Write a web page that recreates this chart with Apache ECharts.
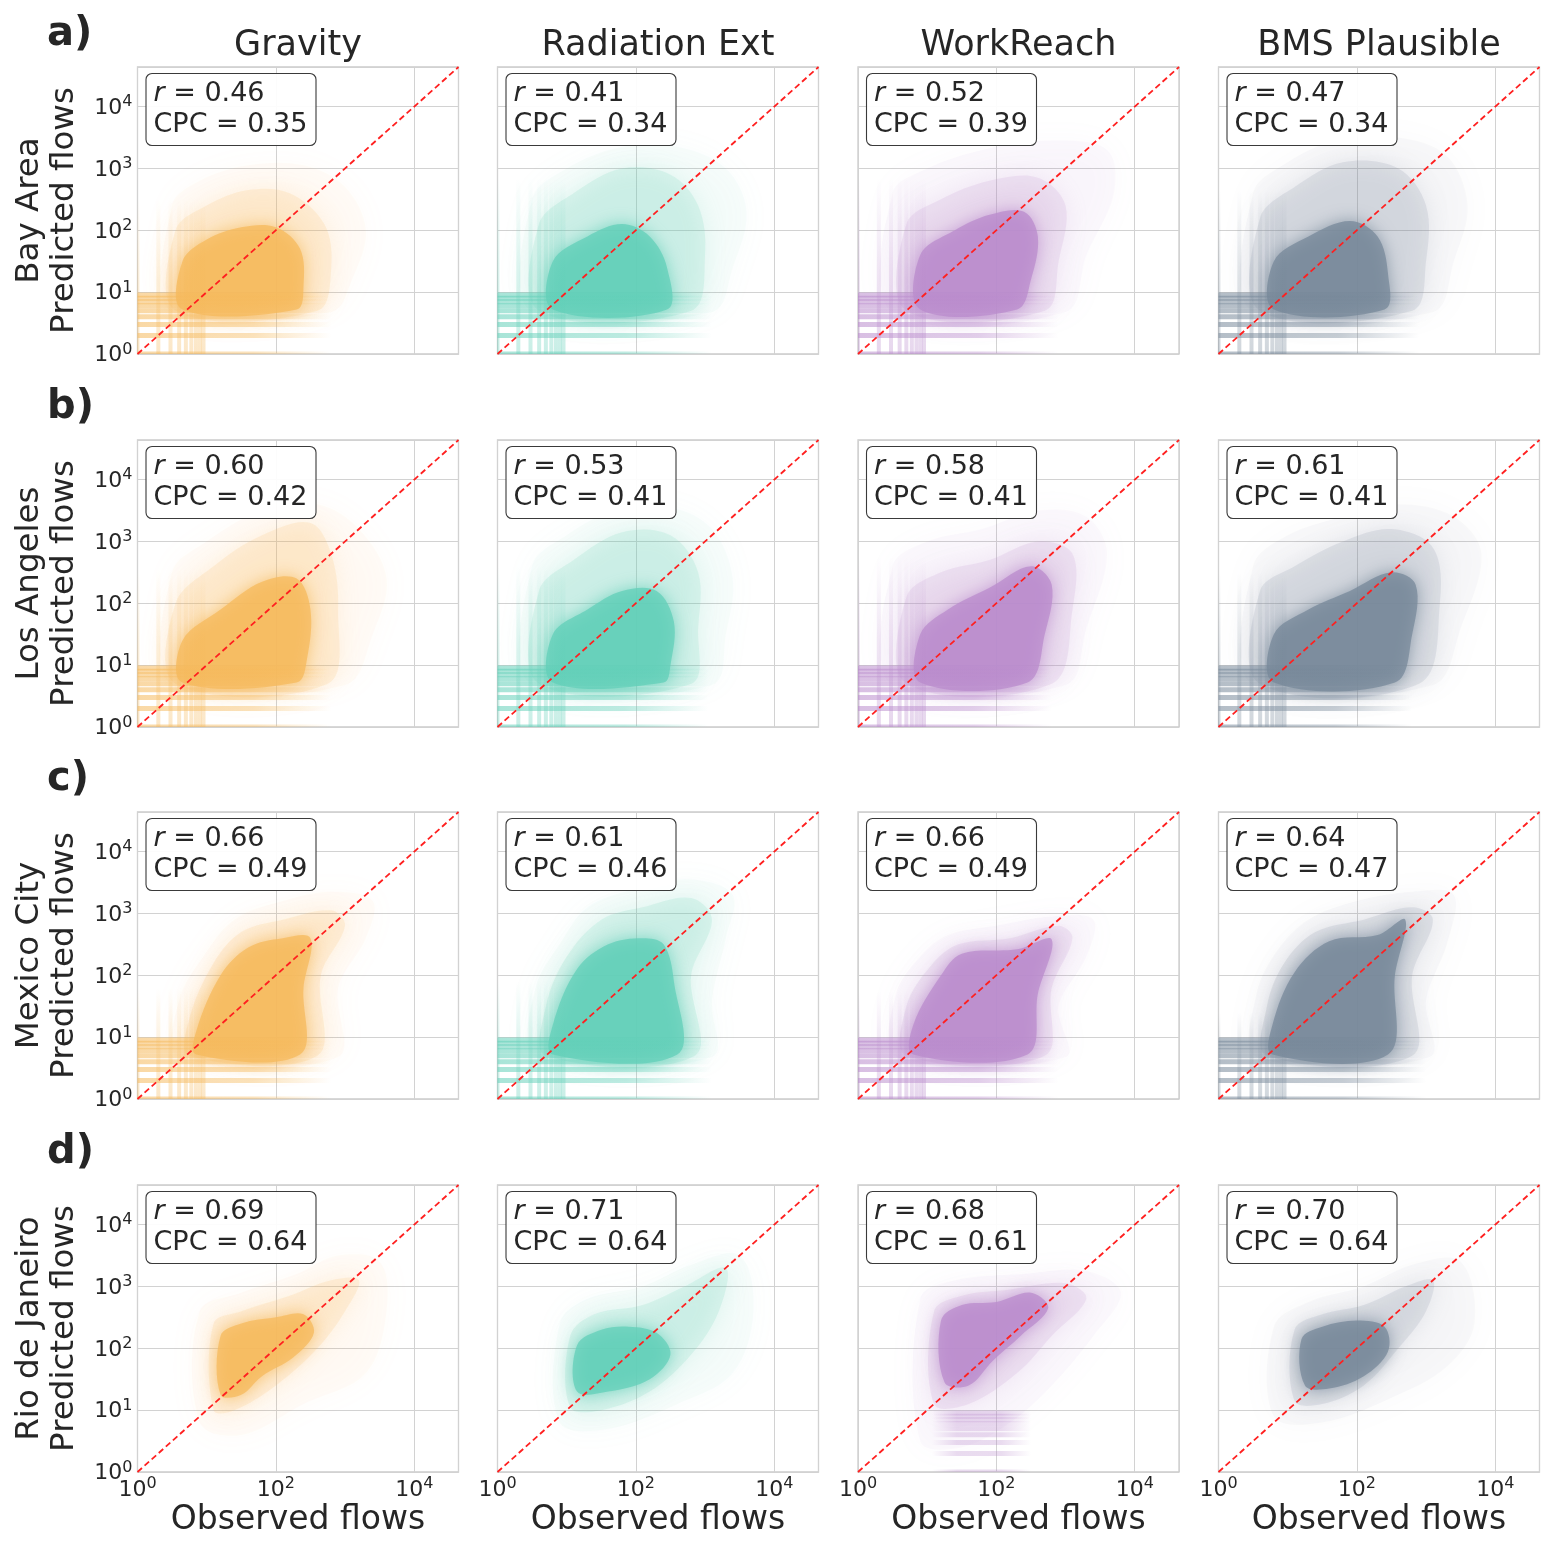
<!DOCTYPE html>
<html>
<head>
<meta charset="utf-8">
<title>Observed vs predicted flows</title>
<script src="https://cdn.jsdelivr.net/npm/echarts@6.0.0/dist/echarts.min.js"></script>
<style>
  html, body { margin: 0; padding: 0; background: #fff; }
  #chart { width: 1556px; height: 1547px; }
</style>
</head>
<body>
<div id="chart"></div>
<script>
// columns = models, rows = cities
const models = ['Gravity', 'Radiation Ext', 'WorkReach', 'BMS Plausible']
const cities = ['Bay Area', 'Los Angeles', 'Mexico City', 'Rio de Janeiro']
const panelTags = ['a)', 'b)', 'c)', 'd)']
const modelColors = ['#f5b95c', '#62cfb8', '#b98bcc', '#778899']

// scores per city (row) and model (column)
const rValues = [
  [0.46, 0.41, 0.52, 0.47],
  [0.60, 0.53, 0.58, 0.61],
  [0.66, 0.61, 0.66, 0.64],
  [0.69, 0.71, 0.68, 0.70]
]
const cpcValues = [
  [0.35, 0.34, 0.39, 0.34],
  [0.42, 0.41, 0.41, 0.41],
  [0.49, 0.46, 0.49, 0.47],
  [0.64, 0.64, 0.61, 0.64]
]

// axes: log10 exponents
const xTickExp = [0, 2, 4]
const yTickExp = [0, 1, 2, 3, 4]
const axisMaxExp = 4.64

// the point clouds, read off the picture as outlines
// each vertex is [log10(observed), log10(predicted)]
const cloudHalo = [
  [
    [[0.5,0.68],[0.5,2.4],[0.9,2.8],[1.6,3.05],[2.4,3.05],[3.0,2.7],[3.3,2.0],[3.1,1.2],[2.8,0.68]],
    [[0.5,0.68],[0.5,2.5],[1.0,3.0],[1.8,3.35],[2.6,3.35],[3.3,3.0],[3.6,2.3],[3.4,1.4],[3.1,0.68]],
    [[0.5,0.68],[0.5,2.6],[1.0,3.0],[1.8,3.3],[2.8,3.45],[3.6,3.3],[3.7,2.6],[3.3,1.6],[3.0,0.68]],
    [[0.5,0.68],[0.5,2.6],[1.0,3.1],[1.7,3.45],[2.6,3.5],[3.3,3.2],[3.6,2.4],[3.4,1.5],[3.1,0.68]]
  ],
  [
    [[0.5,0.68],[0.5,2.5],[1.0,3.0],[1.8,3.5],[2.6,3.6],[3.2,3.2],[3.6,2.4],[3.4,1.5],[3.0,0.68]],
    [[0.5,0.68],[0.5,2.6],[1.0,3.1],[1.7,3.5],[2.5,3.55],[3.1,3.2],[3.4,2.4],[3.3,1.5],[3.1,0.68]],
    [[0.5,0.68],[0.5,2.6],[1.0,3.0],[1.8,3.2],[2.6,3.5],[3.3,3.4],[3.6,2.8],[3.3,1.6],[3.0,0.68]],
    [[0.5,0.68],[0.5,2.6],[1.0,3.1],[1.8,3.4],[2.6,3.6],[3.4,3.4],[3.8,2.8],[3.5,1.6],[3.1,0.68]]
  ],
  [
    [[0.6,0.68],[0.6,1.6],[0.95,2.3],[1.4,2.9],[2.1,3.2],[2.8,3.35],[3.4,3.2],[3.3,2.6],[2.9,1.8],[2.9,0.68]],
    [[0.55,0.68],[0.55,1.8],[0.9,2.5],[1.3,3.1],[2.0,3.4],[2.8,3.55],[3.4,3.3],[3.3,2.6],[3.1,1.6],[3.1,0.68]],
    [[0.55,0.68],[0.55,1.7],[0.9,2.3],[1.3,2.65],[2.0,2.8],[2.8,2.95],[3.4,2.9],[3.3,2.3],[2.9,1.5],[3.0,0.68]],
    [[0.55,0.68],[0.55,1.7],[0.85,2.4],[1.3,2.9],[2.0,3.2],[2.8,3.35],[3.4,3.3],[3.3,2.5],[3.0,1.6],[3.05,0.68]]
  ],
  [
    [[0.9,0.8],[0.9,2.6],[1.5,2.9],[2.3,3.2],[2.9,3.5],[3.5,3.4],[3.6,2.6],[3.3,1.6],[2.4,1.1],[1.5,0.6]],
    [[0.9,0.8],[0.9,2.4],[1.3,2.8],[2.1,3.0],[2.8,3.35],[3.5,3.5],[3.7,2.6],[3.4,1.6],[2.6,1.1],[1.6,0.7]],
    [[0.9,0.5],[0.9,2.8],[1.4,3.1],[2.4,3.2],[3.3,3.25],[3.8,2.9],[3.4,2.2],[2.8,1.4],[2.2,0.8],[1.5,0.4]],
    [[0.8,0.9],[0.8,2.35],[1.3,2.75],[2.1,3.0],[2.8,3.35],[3.5,3.4],[3.7,2.4],[3.3,1.7],[2.5,1.2],[1.5,0.8]]
  ]
]
const cloudMid = [
  [
    [[0.55,0.7],[0.55,2.0],[1.0,2.4],[1.6,2.65],[2.2,2.6],[2.7,2.1],[2.8,1.4],[2.6,0.7]],
    [[0.6,0.7],[0.6,2.1],[1.1,2.6],[1.8,3.0],[2.5,2.9],[2.9,2.4],[3.0,1.6],[2.8,0.7]],
    [[0.7,0.7],[0.7,2.1],[1.2,2.5],[1.9,2.8],[2.6,2.85],[3.0,2.4],[2.9,1.5],[2.7,0.7]],
    [[0.6,0.7],[0.6,2.2],[1.1,2.7],[1.8,3.1],[2.6,3.0],[3.0,2.4],[3.0,1.5],[2.8,0.7]]
  ],
  [
    [[0.55,0.7],[0.55,2.0],[1.1,2.6],[1.8,3.1],[2.5,3.3],[2.8,2.8],[2.9,1.9],[2.75,0.7]],
    [[0.6,0.7],[0.6,2.2],[1.1,2.7],[1.8,3.15],[2.5,3.1],[2.9,2.5],[2.9,1.6],[2.8,0.7]],
    [[0.7,0.7],[0.7,2.1],[1.2,2.5],[1.9,2.7],[2.6,3.0],[3.1,2.8],[3.1,1.9],[2.8,0.7]],
    [[0.6,0.7],[0.6,2.2],[1.1,2.6],[1.8,3.0],[2.5,3.2],[3.1,2.9],[3.2,2.0],[2.9,0.7]]
  ],
  [
    [[0.75,0.7],[0.75,1.3],[1.1,2.2],[1.5,2.7],[2.1,2.9],[2.8,3.05],[3.0,2.8],[2.65,2.0],[2.6,0.7]],
    [[0.7,0.7],[0.7,1.5],[1.0,2.3],[1.5,2.9],[2.1,3.1],[2.8,3.25],[3.1,2.9],[2.8,2.0],[2.85,0.7]],
    [[0.7,0.7],[0.7,1.5],[1.05,2.15],[1.45,2.5],[2.2,2.6],[2.9,2.8],[3.1,2.6],[2.8,1.8],[2.7,0.7]],
    [[0.7,0.7],[0.7,1.5],[0.95,2.2],[1.4,2.7],[2.1,2.9],[2.8,3.1],[3.1,2.9],[2.8,2.0],[2.8,0.7]]
  ],
  [
    [[1.1,1.0],[1.1,2.4],[1.5,2.6],[2.2,2.85],[2.8,3.1],[3.2,3.1],[3.0,2.6],[2.6,2.0],[2.0,1.4],[1.4,1.0]],
    [[1.05,1.05],[1.05,2.2],[1.4,2.55],[2.1,2.7],[2.7,3.0],[3.3,3.3],[3.2,2.6],[2.8,1.9],[2.2,1.3],[1.5,1.0]],
    [[1.1,1.1],[1.1,2.6],[1.5,2.85],[2.2,2.95],[3.0,3.05],[3.3,2.8],[2.8,2.2],[2.3,1.6],[1.6,1.1]],
    [[1.1,1.15],[1.1,2.3],[1.5,2.55],[2.1,2.7],[2.7,3.0],[3.1,3.1],[3.0,2.6],[2.6,2.0],[2.1,1.4],[1.5,1.1]]
  ]
]
const cloudCore = [
  [
    [[0.65,0.72],[0.65,1.5],[1.0,1.85],[1.5,2.05],[2.0,2.05],[2.35,1.7],[2.4,1.1],[2.3,0.72]],
    [[0.8,0.72],[0.8,1.5],[1.3,1.9],[1.8,2.1],[2.2,1.9],[2.45,1.4],[2.45,0.72]],
    [[0.9,0.72],[0.9,1.6],[1.4,2.0],[1.9,2.25],[2.4,2.3],[2.6,1.9],[2.5,1.2],[2.3,0.72]],
    [[0.8,0.72],[0.8,1.5],[1.3,1.9],[1.9,2.15],[2.3,1.9],[2.45,1.3],[2.4,0.72]]
  ],
  [
    [[0.65,0.72],[0.65,1.4],[1.2,1.9],[1.8,2.35],[2.3,2.4],[2.5,1.9],[2.45,1.1],[2.3,0.72]],
    [[0.8,0.72],[0.8,1.5],[1.3,1.9],[1.8,2.2],[2.3,2.2],[2.55,1.7],[2.5,1.0],[2.4,0.72]],
    [[0.9,0.72],[0.9,1.5],[1.3,1.9],[1.9,2.25],[2.5,2.6],[2.8,2.3],[2.7,1.5],[2.45,0.72]],
    [[0.8,0.72],[0.8,1.5],[1.3,1.9],[1.9,2.2],[2.5,2.5],[2.85,2.3],[2.8,1.5],[2.55,0.72]]
  ],
  [
    [[0.85,0.72],[0.85,1.1],[1.2,2.0],[1.6,2.45],[2.1,2.6],[2.5,2.6],[2.4,1.8],[2.35,0.72]],
    [[0.8,0.72],[0.8,1.2],[1.15,2.1],[1.6,2.5],[2.1,2.6],[2.4,2.5],[2.55,1.9],[2.6,0.72]],
    [[0.8,0.72],[0.8,1.2],[1.2,2.0],[1.5,2.35],[2.3,2.42],[2.8,2.58],[2.6,1.7],[2.45,0.72]],
    [[0.78,0.72],[0.78,1.2],[1.1,2.05],[1.6,2.55],[2.3,2.65],[2.7,2.9],[2.55,2.0],[2.45,0.72]]
  ],
  [
    [[1.2,1.25],[1.2,2.2],[1.5,2.4],[2.0,2.5],[2.4,2.55],[2.55,2.25],[2.25,1.85],[1.8,1.55],[1.5,1.25]],
    [[1.15,1.3],[1.15,2.05],[1.5,2.3],[1.9,2.35],[2.3,2.25],[2.5,1.9],[2.2,1.5],[1.6,1.3]],
    [[1.25,1.45],[1.2,2.45],[1.5,2.7],[2.0,2.75],[2.5,2.9],[2.75,2.65],[2.35,2.2],[1.95,1.8],[1.6,1.4]],
    [[1.25,1.4],[1.2,2.15],[1.5,2.35],[2.0,2.45],[2.4,2.35],[2.45,1.95],[2.1,1.55],[1.6,1.35]]
  ]
]

// integer flows stack up in bands of points
const bandLevels = [1, 2, 3, 4, 5, 6, 7, 8, 9]
// horizontal bands: log10 range of observed flows (null = no bands)
const hBandFromExp = [
  [0, 0, 0, 0],
  [0, 0, 0, 0],
  [0, 0, 0, 0],
  [null, null, 1.07, null]
]
const hBandToExp = [
  [2.8, 3.1, 2.9, 2.9],
  [2.8, 3.05, 2.8, 2.8],
  [2.8, 3.1, 2.9, 3.0],
  [null, null, 2.5, null]
]
// vertical bands: log10 of the highest predicted flow reached
const vBandTopExp = [
  [2.5, 2.85, 2.85, 2.65],
  [2.55, 2.6, 2.75, 2.5],
  [1.8, 1.9, 1.75, 1.4],
  [null, null, null, null]
]

// ---------------------------------------------------------------
const colLeft = [137.5, 497.5, 858, 1218.5]
const rowTop = [67, 440, 812, 1185]
const panelW = 321
const panelH = 287
const axisMax = Math.pow(10, axisMaxExp)
const FONT = '"DejaVu Sans", "Noto Sans", sans-serif'
const INK = '#262626'

function rgba(hex, a) {
  const n = parseInt(hex.slice(1), 16)
  return 'rgba(' + (n >> 16) + ',' + ((n >> 8) & 255) + ',' + (n & 255) + ',' + a + ')'
}

function tickLabel(allowed) {
  return function (v) {
    const e = Math.log10(v)
    const r = Math.round(e)
    if (Math.abs(e - r) > 1e-6 || allowed.indexOf(r) < 0) return ''
    return '{b|10}{s|' + r + '}'
  }
}
const tickRich = {
  b: { fontSize: 22, fontFamily: FONT, color: INK, verticalAlign: 'bottom', lineHeight: 25 },
  s: { fontSize: 16, fontFamily: FONT, color: INK, verticalAlign: 'bottom', lineHeight: 25, padding: [0, 0, 9, 0] }
}

const layers = [
  { outlines: cloudHalo, alpha: 0.04, blur: 30, z: 2 },
  { outlines: cloudMid, alpha: 0.15, blur: 22, z: 3 },
  { outlines: cloudCore, alpha: 0.75, blur: 16, z: 4 }
]

const grids = [], xAxes = [], yAxes = [], series = [], titles = [], graphics = []

for (let r = 0; r < 4; r++) {
  for (let c = 0; c < 4; c++) {
    const gi = r * 4 + c
    const color = modelColors[c]
    grids.push({
      left: colLeft[c], top: rowTop[r], width: panelW, height: panelH,
      show: true, borderColor: '#cccccc', borderWidth: 1.3, backgroundColor: '#fff'
    })
    xAxes.push({
      type: 'log', logBase: 100, gridIndex: gi, min: 1, max: axisMax,
      axisLine: { show: false }, axisTick: { show: false },
      splitLine: { show: true, lineStyle: { color: '#d2d2d2', width: 1 } },
      axisLabel: {
        show: r === 3, formatter: tickLabel(xTickExp), rich: tickRich, margin: 4,
        showMinLabel: true, showMaxLabel: false
      }
    })
    yAxes.push({
      type: 'log', logBase: 10, gridIndex: gi, min: 1, max: axisMax,
      axisLine: { show: false }, axisTick: { show: false },
      splitLine: { show: true, lineStyle: { color: '#d2d2d2', width: 1 } },
      axisLabel: {
        show: c === 0, formatter: tickLabel(yTickExp), rich: tickRich, margin: 5,
        showMinLabel: true, showMaxLabel: false
      }
    })

    // cloud layers
    layers.forEach(function (L) {
      const poly = L.outlines[r][c]
      series.push({
        type: 'custom', xAxisIndex: gi, yAxisIndex: gi, silent: true, clip: true, z: L.z,
        data: [[1, 1]],
        renderItem: function (params, api) {
          return {
            type: 'polygon',
            shape: {
              points: poly.map(p => api.coord([Math.pow(10, p[0]), Math.pow(10, p[1])])),
              smooth: 0.35
            },
            style: { fill: rgba(color, L.alpha), shadowBlur: L.blur, shadowColor: rgba(color, 1) }
          }
        }
      })
    })

    // horizontal bands (integer predicted flows)
    if (hBandToExp[r][c] != null) {
      const from = Math.pow(10, hBandFromExp[r][c])
      const to = Math.pow(10, hBandToExp[r][c])
      const soft = hBandFromExp[r][c] > 0
      series.push({
        type: 'custom', xAxisIndex: gi, yAxisIndex: gi, silent: true, clip: true, z: 5,
        data: bandLevels.map(y => [from, y, to]),
        encode: { x: [0, 2], y: 1 },
        renderItem: function (params, api) {
          const p0 = api.coord([api.value(0), api.value(1)])
          const p1 = api.coord([api.value(2), api.value(1)])
          const a = soft ? 0.3 : 0.55
          const stops = soft
            ? [{ offset: 0, color: rgba(color, 0) }, { offset: 0.25, color: rgba(color, a) },
               { offset: 0.7, color: rgba(color, a) }, { offset: 1, color: rgba(color, 0) }]
            : [{ offset: 0, color: rgba(color, a) }, { offset: 0.6, color: rgba(color, a * 0.75) },
               { offset: 1, color: rgba(color, 0) }]
          return {
            type: 'line',
            shape: { x1: p0[0], y1: p0[1], x2: p1[0], y2: p1[1] },
            style: {
              stroke: new echarts.graphic.LinearGradient(p0[0], 0, p1[0], 0, stops, true),
              lineWidth: 5
            }
          }
        }
      })
    }

    // vertical bands (integer observed flows)
    if (vBandTopExp[r][c] != null) {
      const top = Math.pow(10, vBandTopExp[r][c])
      series.push({
        type: 'custom', xAxisIndex: gi, yAxisIndex: gi, silent: true, clip: true, z: 5,
        data: bandLevels.map(x => [x, 1, top]),
        encode: { x: 0, y: [1, 2] },
        renderItem: function (params, api) {
          const p0 = api.coord([api.value(0), api.value(1)])
          const p1 = api.coord([api.value(0), api.value(2)])
          const a = 0.35
          return {
            type: 'line',
            shape: { x1: p0[0], y1: p0[1], x2: p1[0], y2: p1[1] },
            style: {
              stroke: new echarts.graphic.LinearGradient(0, p0[1], 0, p1[1], [
                { offset: 0, color: rgba(color, a) }, { offset: 0.5, color: rgba(color, a * 0.55) },
                { offset: 1, color: rgba(color, 0) }], true),
              lineWidth: 4
            }
          }
        }
      })
    }

    // 1:1 line
    series.push({
      type: 'line', xAxisIndex: gi, yAxisIndex: gi, silent: true, z: 8,
      data: [[1, 1], [axisMax, axisMax]], symbol: 'none',
      lineStyle: { color: '#ff1f1f', width: 1.8, type: [6, 3.5] }
    })

    // score box
    titles.push({
      left: colLeft[c] + 8, top: rowTop[r] + 6,
      text: '{i|r} = ' + rValues[r][c].toFixed(2) + '\nCPC = ' + cpcValues[r][c].toFixed(2),
      padding: [5, 9, 5, 8],
      backgroundColor: 'rgba(255,255,255,0.92)',
      borderColor: '#3a3a3a', borderWidth: 1.1, borderRadius: 6,
      textStyle: {
        fontSize: 27, fontWeight: 'normal', fontFamily: FONT, color: INK, lineHeight: 31.5,
        rich: { i: { fontSize: 27, fontStyle: 'italic', fontFamily: FONT, color: INK, lineHeight: 31.5 } }
      }
    })
  }
}

// column headings and x-axis names
for (let c = 0; c < 4; c++) {
  const cx = colLeft[c] + panelW / 2
  graphics.push({
    type: 'text', x: cx, y: 46,
    style: { text: models[c], fontSize: 35, fontFamily: FONT, fill: INK, align: 'center', verticalAlign: 'middle' }
  })
  graphics.push({
    type: 'text', x: cx, y: 1520,
    style: { text: 'Observed flows', fontSize: 33, fontFamily: FONT, fill: INK, align: 'center', verticalAlign: 'middle' }
  })
}
// row names and panel tags
for (let r = 0; r < 4; r++) {
  graphics.push({
    type: 'text', x: 47, y: rowTop[r] + panelH / 2, rotation: Math.PI / 2,
    style: {
      text: cities[r] + '\nPredicted flows', fontSize: 32.5, lineHeight: 35, fontFamily: FONT,
      fill: INK, align: 'center', verticalAlign: 'middle'
    }
  })
  graphics.push({
    type: 'text', x: 47, y: rowTop[r] - 32,
    style: {
      text: panelTags[r], fontSize: 40, fontWeight: 'bold', fontFamily: FONT,
      fill: INK, align: 'left', verticalAlign: 'middle'
    }
  })
}

const chart = echarts.init(document.getElementById('chart'), null, { renderer: 'canvas' })
chart.setOption({
  animation: false,
  backgroundColor: '#ffffff',
  title: titles,
  grid: grids,
  xAxis: xAxes,
  yAxis: yAxes,
  series: series,
  graphic: graphics
})
</script>
</body>
</html>
